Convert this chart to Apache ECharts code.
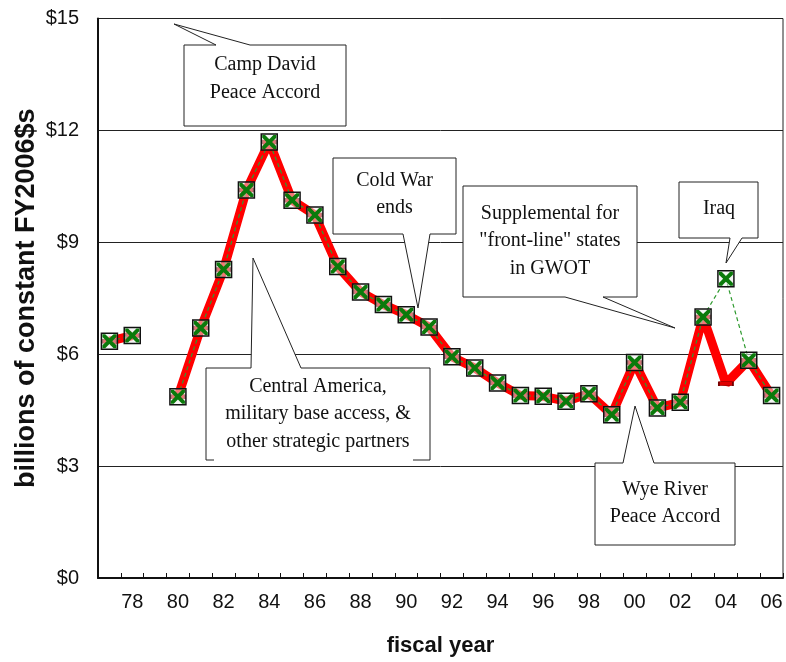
<!DOCTYPE html>
<html>
<head>
<meta charset="utf-8">
<script src="https://cdn.jsdelivr.net/npm/echarts@6/dist/echarts.min.js"></script>
<style>
html,body{margin:0;padding:0;background:#fff;}
#chart{width:786px;height:662px;}
</style>
</head>
<body>
<div id="chart"></div>
<script>
// ---- data ----
const years = ['77','78','79','80','81','82','83','84','85','86','87','88','89','90','91','92','93','94','95','96','97','98','99','00','01','02','03','04','05','06'];
// base aid (red line), FY2004 without Iraq supplemental
const baseAid = [6.35, 6.5, null, 4.86, 6.7, 8.27, 10.4, 11.69, 10.13, 9.73, 8.35, 7.67, 7.33, 7.06, 6.73, 5.93, 5.63, 5.23, 4.89, 4.87, 4.74, 4.94, 4.38, 5.78, 4.56, 4.71, 7.0, 5.21, 5.84, 4.89];
// total incl. supplementals (green markers / dashed line)
const totalAid = [6.35, 6.5, null, 4.86, 6.7, 8.27, 10.4, 11.69, 10.13, 9.73, 8.35, 7.67, 7.33, 7.06, 6.73, 5.93, 5.63, 5.23, 4.89, 4.87, 4.74, 4.94, 4.38, 5.78, 4.56, 4.71, 7.0, 8.02, 5.84, 4.89];
const yTicks = [0, 3, 6, 9, 12, 15];
const callouts = [
  { lines: ['Camp David', 'Peace Accord'] },
  { lines: ['Cold War', 'ends'] },
  { lines: ['Supplemental for', '"front-line" states', 'in GWOT'] },
  { lines: ['Iraq'] },
  { lines: ['Central America,', 'military base access, &', 'other strategic partners'] },
  { lines: ['Wye River', 'Peace Accord'] }
];

// ---- layout for callouts (pixel geometry of the boxes/pointers) ----
const calloutGeom = [
  { box: [184, 45, 346, 126], edge: 'top', base: [216, 250], tip: [174, 24], text: [265, 78.5] },
  { box: [333, 158, 456, 234], edge: 'bottom', base: [403, 430], tip: [418, 308], text: [394.5, 194] },
  { box: [463, 186, 637, 297], edge: 'bottom', base: [565, 603], tip: [675, 328], text: [550, 241] },
  { box: [679, 182, 758, 238], edge: 'bottom', base: [730, 742], tip: [726, 263], text: [719, 209] },
  { box: [206, 368, 430, 460], edge: 'top', base: [251, 301], tip: [253, 258], text: [318, 414], openBottom: [214, 413] },
  { box: [595, 463, 735, 545], edge: 'top', base: [623, 654], tip: [635, 406], text: [665, 503] }
];

function calloutPoints(g) {
  const [x0, y0, x1, y1] = g.box;
  if (g.edge === 'top') {
    return [[x0, y0], [g.base[0], y0], g.tip, [g.base[1], y0], [x1, y0], [x1, y1], [x0, y1]];
  }
  return [[x0, y0], [x1, y0], [x1, y1], [g.base[1], y1], g.tip, [g.base[0], y1], [x0, y1]];
}

const graphics = [];
callouts.forEach((c, i) => {
  const g = calloutGeom[i];
  const pts = calloutPoints(g);
  if (g.openBottom) {
    const [x0, y0, x1, y1] = g.box;
    graphics.push({ type: 'polygon', z: 50, shape: { points: pts }, style: { fill: '#fff', stroke: null } });
    graphics.push({ type: 'polyline', z: 51, shape: { points: [[g.openBottom[0], y1], [x0, y1], [x0, y0], [g.base[0], y0], g.tip, [g.base[1], y0], [x1, y0], [x1, y1], [g.openBottom[1], y1]] }, style: { fill: null, stroke: '#222', lineWidth: 1 } });
  } else {
    graphics.push({ type: 'polygon', z: 50, shape: { points: pts }, style: { fill: '#fff', stroke: '#222', lineWidth: 1 } });
  }
  graphics.push({
    type: 'text', z: 52, x: g.text[0], y: g.text[1],
    style: { text: c.lines.join('\n'), font: '20px "Liberation Serif", "Times New Roman", serif', fill: '#111', textAlign: 'center', textVerticalAlign: 'middle', lineHeight: 27.5 }
  });
});

const chart = echarts.init(document.getElementById('chart'), null, { renderer: 'canvas' });

const xSymbol = 'path://M0,0 L4,0 L10,6 L16,0 L20,0 L20,4 L14,10 L20,16 L20,20 L16,20 L10,14 L4,20 L0,20 L0,16 L6,10 L0,4 Z';

chart.setOption({
  backgroundColor: '#fff',
  animation: false,
  grid: { left: 98, right: 3, top: 18.5, bottom: 83, show: true, borderColor: '#222', borderWidth: 1, backgroundColor: 'transparent' },
  xAxis: {
    type: 'category',
    data: years,
    boundaryGap: true,
    name: 'fiscal year',
    nameLocation: 'middle',
    nameGap: 57,
    nameMoveOverlap: false,
    nameTextStyle: { fontFamily: 'Liberation Sans, Arial', fontSize: 22, fontWeight: 'bold', color: '#111' },
    axisLine: { lineStyle: { color: '#111', width: 2 } },
    axisTick: { show: true, inside: true, length: 5, interval: 0, lineStyle: { color: '#111', width: 1 } },
    axisLabel: {
      interval: (idx) => idx % 2 === 1,
      margin: 14,
      fontFamily: 'Liberation Sans, Arial', fontSize: 20, color: '#111'
    },
    splitLine: { show: false }
  },
  yAxis: {
    type: 'value',
    min: yTicks[0], max: yTicks[yTicks.length - 1], interval: 3,
    name: 'billions of constant FY2006$s',
    nameLocation: 'middle',
    nameGap: 58,
    nameMoveOverlap: false,
    nameRotate: 90,
    nameTextStyle: { fontFamily: 'Liberation Sans, Arial', fontSize: 27, fontWeight: 'bold', color: '#111' },
    axisLine: { show: true, lineStyle: { color: '#111', width: 2 } },
    axisTick: { show: false },
    axisLabel: { formatter: (v) => '$' + v, margin: 19, fontFamily: 'Liberation Sans, Arial', fontSize: 20, color: '#111' },
    splitLine: { show: true, lineStyle: { color: '#222', width: 1 } }
  },
  series: [
    {
      name: 'base', type: 'line', data: baseAid, z: 2,
      connectNulls: false,
      lineStyle: { color: '#ff0000', width: 9 },
      symbol: 'rect', symbolSize: [14, 4], showSymbol: true, showAllSymbol: true,
      itemStyle: { color: '#e00000', borderColor: '#700', borderWidth: 1 }
    },
    {
      name: 'total', type: 'line', data: totalAid, z: 3,
      lineStyle: { color: '#2e9a2e', width: 1.2, type: [4, 3] },
      symbol: 'rect', symbolSize: 16, showSymbol: true, showAllSymbol: true,
      itemStyle: { color: 'rgba(235,235,235,0.5)', borderColor: '#111', borderWidth: 1.5 }
    },
    {
      name: 'totalX', type: 'line', data: totalAid, z: 4,
      lineStyle: { width: 0, opacity: 0 },
      symbol: xSymbol, symbolSize: 14, showSymbol: true, showAllSymbol: true,
      itemStyle: { color: '#0b7a0b' }
    }
  ],
  graphic: graphics
});
</script>
</body>
</html>
